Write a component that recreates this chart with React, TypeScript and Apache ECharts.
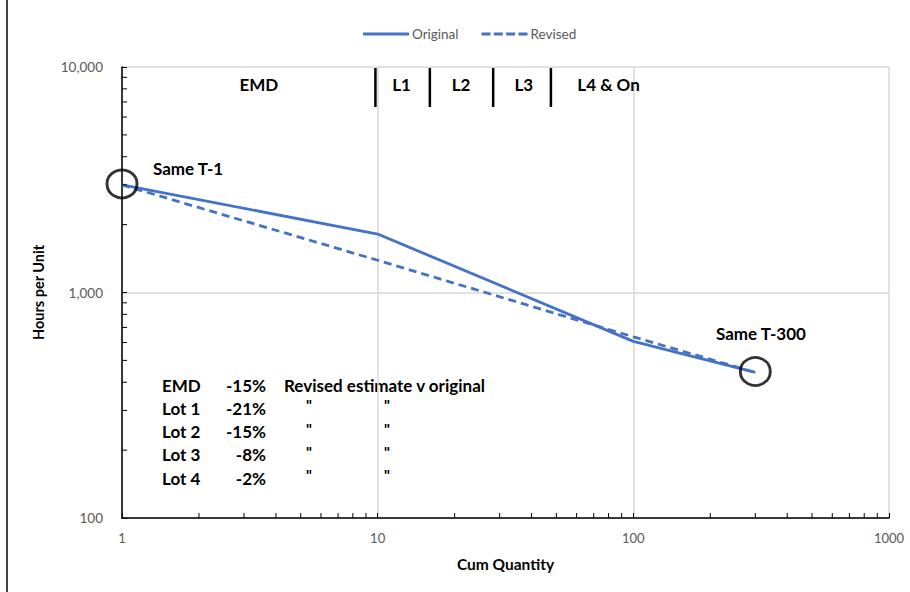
import React, { useEffect, useRef } from "react";
import * as echarts from "echarts";

const quantities = [1, 10, 100, 300];
const originalHours = [3000, 1817, 607, 442];
const revisedHours = [3000, 1390, 636, 442];

const sameMarkers = [[1, 3000], [300, 442]];

const lotBoundaries = [9.8, 16, 28.3, 47.6];
const lotLabels = ["EMD", "L1", "L2", "L3", "L4 & On"];
const lotLabelX = [3.43, 12.4, 21.2, 37.3, 80];
const lotLabelY = 8350;

const xMinorTicks = [2, 3, 4, 5, 6, 7, 8, 9, 20, 30, 40, 50, 60, 70, 80, 90, 200, 300, 400, 500, 600, 700, 800, 900];
const yMinorTicks = [200, 300, 400, 500, 600, 700, 800, 900, 2000, 3000, 4000, 5000, 6000, 7000, 8000, 9000];

const rowNames = ["EMD", "Lot 1", "Lot 2", "Lot 3", "Lot 4"];
const rowPct = ["-15%", "-21%", "-15%", "-8%", "-2%"];
const rowNote = ["Revised estimate v original", "\"", "\"", "\"", "\""];

const FONT = "Lato, 'Open Sans', sans-serif";
const BLUE = "#4472C4";
const ANN = `bold 17px ${FONT}`;

export default function App() {
  const ref = useRef<HTMLDivElement>(null);
  useEffect(() => {
    if (!ref.current) return;
    const chart = echarts.init(ref.current, null, { renderer: "svg" });

    const tableTexts: any[] = [];
    rowNames.forEach((n, i) => {
      const y = 385 + i * 23.3;
      tableTexts.push({ type: "text", x: 162, y, style: { text: n, font: ANN, fill: "#000", verticalAlign: "middle", align: "left" } });
      tableTexts.push({ type: "text", x: 266, y, style: { text: rowPct[i], font: ANN, fill: "#000", verticalAlign: "middle", align: "right" } });
      if (i === 0) {
        tableTexts.push({ type: "text", x: 284, y, style: { text: rowNote[i], font: ANN, fill: "#000", verticalAlign: "middle", align: "left" } });
      } else {
        tableTexts.push({ type: "text", x: 309, y: y - 3, style: { text: rowNote[i], font: `bold 15px ${FONT}`, fill: "#000", verticalAlign: "middle", align: "center" } });
        tableTexts.push({ type: "text", x: 387, y: y - 3, style: { text: rowNote[i], font: `bold 15px ${FONT}`, fill: "#000", verticalAlign: "middle", align: "center" } });
      }
    });

    chart.setOption({
      animation: false,
      backgroundColor: "#fff",
      grid: { left: 122, top: 67, right: 21, bottom: 74 },
      legend: {
        data: [
          { name: "Original", icon: "rect" },
          { name: "Revised", icon: "path://M0,0h9v3h-9z M12.3,0h9v3h-9z M24.6,0h9v3h-9z M37,0h9v3h-9z" },
        ],
        left: 358,
        top: 22,
        itemWidth: 46,
        itemHeight: 3,
        itemGap: 23,
        textStyle: { color: "#595959", fontSize: 13.5, fontFamily: FONT, padding: [0, 0, 0, -2] },
      },
      xAxis: {
        type: "log",
        logBase: 10,
        min: 1,
        max: 1000,
        name: "Cum Quantity",
        nameLocation: "middle",
        nameGap: 38,
        nameTextStyle: { fontWeight: "bold", fontSize: 15.5, color: "#000", fontFamily: FONT },
        axisLine: { lineStyle: { color: "#000", width: 1.5 } },
        axisTick: { show: true, inside: true, length: 5, lineStyle: { color: "#000" } },
        axisLabel: { color: "#595959", fontSize: 13, fontFamily: FONT, margin: 13, formatter: (v: number) => String(v) },
        splitLine: { show: true, lineStyle: { color: "#d9d9d9", width: 1.5 } },
      },
      yAxis: {
        type: "log",
        logBase: 10,
        min: 100,
        max: 10000,
        name: "Hours per Unit",
        nameLocation: "middle",
        nameGap: 76,
        nameTextStyle: { fontWeight: "bold", fontSize: 14.5, color: "#000", fontFamily: FONT },
        axisLine: { lineStyle: { color: "#000", width: 1.5 } },
        axisTick: { show: true, inside: true, length: 5, lineStyle: { color: "#000" } },
        axisLabel: { color: "#595959", fontSize: 13.5, fontFamily: FONT, margin: 19, formatter: (v: number) => v.toLocaleString("en-US") },
        splitLine: { show: true, lineStyle: { color: "#d9d9d9", width: 1.5 } },
      },
      series: [
        {
          name: "Original",
          type: "line",
          data: quantities.map((q, i) => [q, originalHours[i]]),
          symbol: "none",
          lineStyle: { color: BLUE, width: 2.8 },
          itemStyle: { color: BLUE },
          z: 3,
        },
        {
          name: "Revised",
          type: "line",
          data: quantities.map((q, i) => [q, revisedHours[i]]),
          symbol: "none",
          lineStyle: { color: BLUE, width: 2.8, type: [8, 5] },
          itemStyle: { color: BLUE },
          z: 3,
        },
        {
          type: "scatter",
          data: sameMarkers,
          symbol: "circle",
          symbolSize: [30, 28],
          symbolOffset: [0, -1],
          itemStyle: { color: "rgba(0,0,0,0)", borderColor: "#000", borderWidth: 2.8 },
          silent: true,
          z: 4,
        },
        {
          type: "custom",
          data: xMinorTicks.map((v) => [v, 100]),
          silent: true,
          z: 5,
          renderItem: (params: any, api: any) => {
            const p = api.coord([api.value(0), api.value(1)]);
            return { type: "line", shape: { x1: p[0], y1: p[1], x2: p[0], y2: p[1] - 5 }, style: { stroke: "#000", lineWidth: 1 } };
          },
        },
        {
          type: "custom",
          data: yMinorTicks.map((v) => [1, v]),
          silent: true,
          z: 5,
          renderItem: (params: any, api: any) => {
            const p = api.coord([api.value(0), api.value(1)]);
            return { type: "line", shape: { x1: p[0], y1: p[1], x2: p[0] + 5, y2: p[1] }, style: { stroke: "#000", lineWidth: 1 } };
          },
        },
        {
          type: "custom",
          data: lotBoundaries.map((v) => [v, 10000]),
          silent: true,
          z: 5,
          renderItem: (params: any, api: any) => {
            const p = api.coord([api.value(0), api.value(1)]);
            return { type: "line", shape: { x1: p[0], y1: p[1] + 1, x2: p[0], y2: p[1] + 40 }, style: { stroke: "#000", lineWidth: 2.5 } };
          },
        },
        {
          type: "custom",
          data: lotLabelX.map((v, i) => ({ value: [v, lotLabelY], name: lotLabels[i] })),
          silent: true,
          z: 5,
          renderItem: (params: any, api: any) => {
            const p = api.coord([api.value(0), api.value(1)]);
            return {
              type: "text",
              x: p[0],
              y: p[1],
              style: { text: lotLabels[params.dataIndex], font: ANN, fill: "#000", align: "center", verticalAlign: "middle" },
            };
          },
        },
      ],
      graphic: [
        { type: "line", shape: { x1: 7, y1: 0, x2: 7, y2: 592 }, style: { stroke: "#444", lineWidth: 2 } },
        { type: "text", x: 153, y: 168, style: { text: "Same T-1", font: ANN, fill: "#000", verticalAlign: "middle", align: "left" } },
        { type: "text", x: 716, y: 333, style: { text: "Same T-300", font: ANN, fill: "#000", verticalAlign: "middle", align: "left" } },
        ...tableTexts,
      ],
    });
    return () => chart.dispose();
  }, []);
  return <div ref={ref} style={{ position: "fixed", left: 0, top: 0, width: 910, height: 592 }} />;
}
